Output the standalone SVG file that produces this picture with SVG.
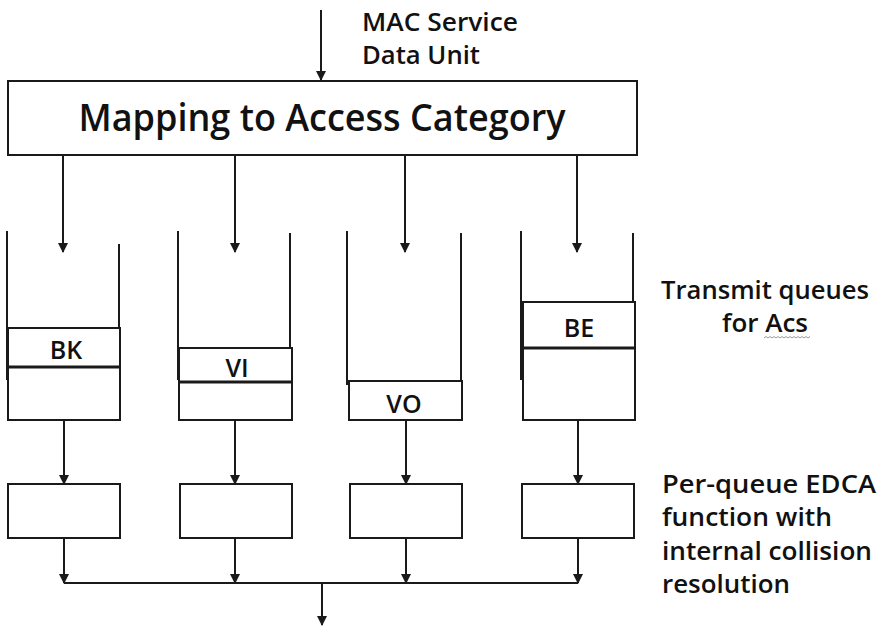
<svg xmlns="http://www.w3.org/2000/svg" width="885" height="627" viewBox="0 0 885 627">
<style>
.box{fill:#fff;stroke:#1a1a1a;stroke-width:2}
.wall{fill:none;stroke:#1a1a1a;stroke-width:2}
.div{stroke:#1a1a1a;stroke-width:3}
.ln{fill:none;stroke:#1a1a1a;stroke-width:2}
.t{font-family:"Open Sans","Noto Sans","Liberation Sans",sans-serif;fill:#111}
.q{font-size:25px;font-weight:600;text-anchor:middle}
.side{font-size:25px;font-weight:600}
</style>
<defs>
<marker id="ah" markerWidth="10" markerHeight="12" refX="9" refY="5" orient="auto" markerUnits="userSpaceOnUse">
<path d="M0,0 L10,5 L0,10 Z" fill="#1a1a1a"/>
</marker>
</defs>
<rect width="885" height="627" fill="#fff"/>

<g id="mapping">
<rect class="box" x="8" y="81" width="629" height="74"/>
<text class="t" x="322" y="131" font-size="37" font-weight="600" text-anchor="middle" textLength="487" lengthAdjust="spacingAndGlyphs">Mapping to Access Category</text>
</g>

<g id="msdu-label">
<text class="t side" x="362" y="31" font-size="23" textLength="156" lengthAdjust="spacingAndGlyphs">MAC Service</text>
<text class="t side" x="362" y="64" font-size="23" textLength="118" lengthAdjust="spacingAndGlyphs">Data Unit</text>
</g>

<g id="queue-bk">
<path class="wall" d="M7,231 V380 M119,244 V380"/>
<rect class="box" x="8" y="328" width="112" height="92"/>
<line class="div" x1="8" y1="367" x2="120" y2="367"/>
<text class="t q" x="66" y="359">BK</text>
</g>

<g id="queue-vi">
<path class="wall" d="M178,231 V380 M290,233 V380"/>
<rect class="box" x="179" y="348" width="113" height="72"/>
<line class="div" x1="179" y1="382" x2="292" y2="382"/>
<text class="t q" x="237" y="377">VI</text>
</g>

<g id="queue-vo">
<path class="wall" d="M347,231 V385 M461,233 V400"/>
<rect class="box" x="349" y="381" width="113" height="39"/>
<text class="t q" x="404" y="413">VO</text>
</g>

<g id="queue-be">
<path class="wall" d="M521,231 V380 M633,233 V385"/>
<rect class="box" x="523" y="302" width="112" height="118"/>
<line class="div" x1="523" y1="348" x2="635" y2="348"/>
<text class="t q" x="579" y="337">BE</text>
</g>

<g id="edca-bk"><rect class="box" x="8" y="484" width="112" height="54"/></g>
<g id="edca-vi"><rect class="box" x="180" y="484" width="112" height="54"/></g>
<g id="edca-vo"><rect class="box" x="350" y="484" width="112" height="54"/></g>
<g id="edca-be"><rect class="box" x="522" y="484" width="112" height="54"/></g>

<g id="queue-label">
<text class="t side" x="661" y="299" textLength="208" lengthAdjust="spacingAndGlyphs">Transmit queues</text>
<text class="t side" x="722" y="332" textLength="86" lengthAdjust="spacingAndGlyphs">for Acs</text>
<path d="M764,338 l2,-1.5 l2,1.5 l2,-1.5 l2,1.5 l2,-1.5 l2,1.5 l2,-1.5 l2,1.5 l2,-1.5 l2,1.5 l2,-1.5 l2,1.5 l2,-1.5 l2,1.5 l2,-1.5 l2,1.5 l2,-1.5 l2,1.5 l2,-1.5 l2,1.5 l2,-1.5 l2,1.5 l2,-1.5" fill="none" stroke="#9a9a9a" stroke-width="1"/>
</g>

<g id="edca-label">
<text class="t side" x="662" y="493" textLength="214" lengthAdjust="spacingAndGlyphs">Per-queue EDCA</text>
<text class="t side" x="662" y="526" textLength="170" lengthAdjust="spacingAndGlyphs">function with</text>
<text class="t side" x="662" y="560" textLength="210" lengthAdjust="spacingAndGlyphs">internal collision</text>
<text class="t side" x="662" y="593" textLength="128" lengthAdjust="spacingAndGlyphs">resolution</text>
</g>

<g id="connectors">
<line class="ln" x1="321" y1="10" x2="321" y2="80" marker-end="url(#ah)"/>
<line class="ln" x1="63" y1="155" x2="63" y2="252" marker-end="url(#ah)"/>
<line class="ln" x1="235" y1="155" x2="235" y2="252" marker-end="url(#ah)"/>
<line class="ln" x1="405" y1="155" x2="405" y2="252" marker-end="url(#ah)"/>
<line class="ln" x1="577" y1="155" x2="577" y2="252" marker-end="url(#ah)"/>
<line class="ln" x1="64" y1="420" x2="64" y2="484" marker-end="url(#ah)"/>
<line class="ln" x1="235" y1="420" x2="235" y2="484" marker-end="url(#ah)"/>
<line class="ln" x1="406" y1="420" x2="406" y2="484" marker-end="url(#ah)"/>
<line class="ln" x1="578" y1="420" x2="578" y2="484" marker-end="url(#ah)"/>
<line class="ln" x1="64" y1="538" x2="64" y2="583" marker-end="url(#ah)"/>
<line class="ln" x1="235" y1="538" x2="235" y2="583" marker-end="url(#ah)"/>
<line class="ln" x1="406" y1="538" x2="406" y2="583" marker-end="url(#ah)"/>
<line class="ln" x1="578" y1="538" x2="578" y2="583" marker-end="url(#ah)"/>
<line class="ln" x1="64" y1="583" x2="578" y2="583"/>
<line class="ln" x1="322" y1="583" x2="322" y2="625" marker-end="url(#ah)"/>
</g>
</svg>
